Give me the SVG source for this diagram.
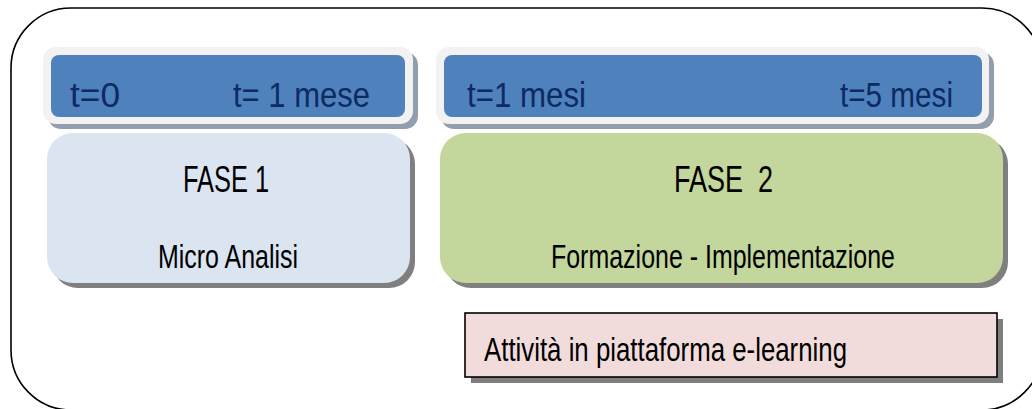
<svg xmlns="http://www.w3.org/2000/svg" width="1032" height="409" viewBox="0 0 1032 409">
<style>
  .frame{fill:none;stroke:#000;stroke-width:1.6}
  .tshadow{fill:#929eae}
  .tborder{fill:#f2f2f2}
  .tfill{fill:#4f81bd}
  .ttext{font-family:"Liberation Sans",Arial,sans-serif;font-size:35px;fill:#0d2a62}
  .shadow{fill:#7f7f7f}
  .txt{font-family:"Liberation Sans",Arial,sans-serif;fill:#000}
</style>
<rect class="frame" x="11" y="8" width="1031" height="402" rx="60" ry="60"/>
<g id="t1">
  <rect class="tshadow" x="48" y="52" width="370" height="77" rx="13"/>
  <rect class="tborder" x="43" y="47" width="370" height="77" rx="13"/>
  <rect class="tfill" x="51" y="55" width="354" height="62" rx="8"/>
  <text class="ttext" x="70" y="107" textLength="50" lengthAdjust="spacingAndGlyphs">t=0</text>
  <text class="ttext" x="233" y="107" textLength="137" lengthAdjust="spacingAndGlyphs">t= 1 mese</text>
</g>
<g id="t2">
  <rect class="tshadow" x="441" y="52" width="553" height="77" rx="13"/>
  <rect class="tborder" x="436" y="47" width="553" height="77" rx="13"/>
  <rect class="tfill" x="444" y="55" width="538" height="62" rx="8"/>
  <text class="ttext" x="467" y="107" textLength="119" lengthAdjust="spacingAndGlyphs">t=1 mesi</text>
  <text class="ttext" x="840" y="107" textLength="113" lengthAdjust="spacingAndGlyphs">t=5 mesi</text>
</g>
<g id="fase1">
  <rect class="shadow" x="52" y="138" width="363" height="150" rx="26"/>
  <rect x="47" y="133" width="363" height="150" rx="26" fill="#dbe5f1"/>
  <text class="txt" x="183" y="192" font-size="37" textLength="86" lengthAdjust="spacingAndGlyphs">FASE 1</text>
  <text class="txt" x="158" y="268" font-size="33" textLength="140" lengthAdjust="spacingAndGlyphs">Micro Analisi</text>
</g>
<g id="fase2">
  <rect class="shadow" x="445" y="138" width="563" height="150" rx="26"/>
  <rect x="440" y="133" width="563" height="150" rx="26" fill="#c3d69b"/>
  <text class="txt" x="674" y="192" font-size="37" textLength="99" lengthAdjust="spacingAndGlyphs" xml:space="preserve">FASE  2</text>
  <text class="txt" x="551" y="268" font-size="33" textLength="344" lengthAdjust="spacingAndGlyphs">Formazione - Implementazione</text>
</g>
<g id="elearning">
  <rect class="shadow" x="471" y="319" width="532" height="64"/>
  <rect x="465" y="313" width="532" height="64" fill="#f2dcdb" stroke="#000" stroke-width="1.6"/>
  <text class="txt" x="484" y="361" font-size="33" textLength="363" lengthAdjust="spacingAndGlyphs">Attività in piattaforma e-learning</text>
</g>
<g id="connectors"></g>
</svg>
